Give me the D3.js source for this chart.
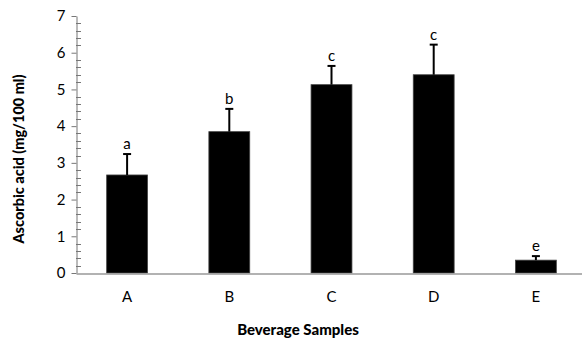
<!DOCTYPE html>
<html>
<head>
<meta charset="utf-8">
<script src="https://cdn.jsdelivr.net/npm/d3@7"></script>
<style>
  body { margin: 0; background: #fff; }
  text { font-family: "Lato", "Open Sans", sans-serif; fill: #000; }
</style>
</head>
<body>
<div id="chart"></div>
<script>
// data
const samples = ["A", "B", "C", "D", "E"];
const ascorbic = [2.67, 3.85, 5.13, 5.40, 0.35];
const errors = [0.57, 0.62, 0.51, 0.82, 0.11];
const letters = ["a", "b", "c", "c", "e"];
const yTicks = [0, 1, 2, 3, 4, 5, 6, 7];

const W = 582, H = 341;
const margin = { top: 16, right: -5, bottom: 68, left: 76 };

const svg = d3.select("#chart").append("svg")
  .attr("width", W)
  .attr("height", H);

const x = d3.scaleBand()
  .domain(samples)
  .range([margin.left, W - margin.right])
  .paddingInner(0.6)
  .paddingOuter(0.3);

const y = d3.scaleLinear()
  .domain([0, 7])
  .range([H - margin.bottom, margin.top]);

// minor ticks (inside) every 0.2
const minor = d3.range(0, 7.01, 0.2).filter(v => Math.abs(v - Math.round(v)) > 0.01);
svg.append("g")
  .selectAll("line")
  .data(minor)
  .join("line")
  .attr("x1", margin.left)
  .attr("x2", margin.left + 5)
  .attr("y1", d => Math.round(y(d)) + 0.5)
  .attr("y2", d => Math.round(y(d)) + 0.5)
  .attr("stroke", "#777");

// y axis
const yAxis = svg.append("g")
  .attr("transform", `translate(${margin.left + 0.5},0)`)
  .call(d3.axisLeft(y).tickValues(yTicks).tickFormat(d3.format("d")).tickSize(5).tickSizeOuter(0));
yAxis.select(".domain").attr("stroke", "#777");
yAxis.selectAll(".tick line").attr("stroke", "#777");
yAxis.selectAll(".tick text")
  .attr("x", -11)
  .style("font-size", "15px");

// bars
svg.append("g")
  .selectAll("rect")
  .data(samples)
  .join("rect")
  .attr("x", d => x(d))
  .attr("width", x.bandwidth())
  .attr("y", (d, i) => y(ascorbic[i]))
  .attr("height", (d, i) => y(0) - y(ascorbic[i]))
  .attr("fill", "#000")
  .attr("stroke", "#444")
  .attr("stroke-width", 0.8);

// error bars (upper only)
const eb = svg.append("g")
  .selectAll("g")
  .data(samples)
  .join("g");
eb.append("line")
  .attr("x1", d => x(d) + x.bandwidth() / 2)
  .attr("x2", d => x(d) + x.bandwidth() / 2)
  .attr("y1", (d, i) => y(ascorbic[i]))
  .attr("y2", (d, i) => y(ascorbic[i] + errors[i]))
  .attr("stroke", "#000")
  .attr("stroke-width", 2);
eb.append("line")
  .attr("x1", d => x(d) + x.bandwidth() / 2 - 4)
  .attr("x2", d => x(d) + x.bandwidth() / 2 + 4)
  .attr("y1", (d, i) => y(ascorbic[i] + errors[i]))
  .attr("y2", (d, i) => y(ascorbic[i] + errors[i]))
  .attr("stroke", "#000")
  .attr("stroke-width", 2);
eb.append("text")
  .attr("x", d => x(d) + x.bandwidth() / 2)
  .attr("y", (d, i) => y(ascorbic[i] + errors[i]) - 5)
  .attr("text-anchor", "middle")
  .style("font-size", "15px")
  .text((d, i) => letters[i]);

// x axis
const xAxis = svg.append("g")
  .attr("transform", `translate(0,${y(0) + 0.5})`)
  .call(d3.axisBottom(x).tickSize(0).tickSizeOuter(0));
xAxis.select(".domain").attr("stroke", "#999").attr("stroke-width", 1.5);
xAxis.selectAll(".tick text")
  .attr("dy", "0")
  .attr("y", 28.5)
  .style("font-size", "15px");

// axis titles
svg.append("text")
  .attr("transform", "translate(24,159) rotate(-90)")
  .attr("text-anchor", "middle")
  .style("font-size", "14.5px")
  .style("font-weight", "900")
  .text("Ascorbic acid (mg/100 ml)");

svg.append("text")
  .attr("x", 298)
  .attr("y", 335)
  .attr("text-anchor", "middle")
  .style("font-size", "15px")
  .style("font-weight", "900")
  .text("Beverage Samples");
</script>
</body>
</html>
